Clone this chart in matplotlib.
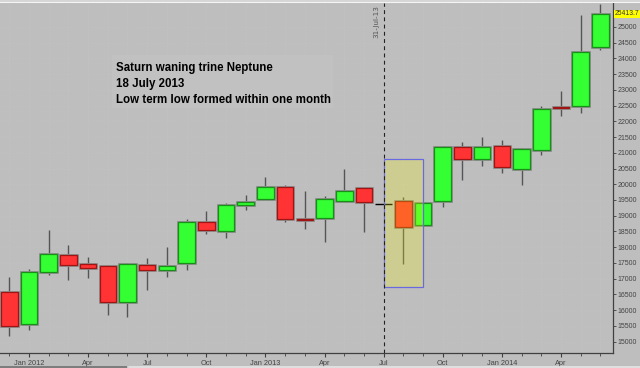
import matplotlib
matplotlib.use("Agg")
import matplotlib.pyplot as plt
import matplotlib.patches as mpatches
from matplotlib.lines import Line2D
import numpy as np

# ---- data (monthly candles, Dec 2011 .. Jun 2014) ----
months = ["Dec 2011", "Jan 2012", "Feb 2012", "Mar 2012", "Apr 2012", "May 2012", "Jun 2012",
          "Jul 2012", "Aug 2012", "Sep 2012", "Oct 2012", "Nov 2012", "Dec 2012",
          "Jan 2013", "Feb 2013", "Mar 2013", "Apr 2013", "May 2013", "Jun 2013",
          "Jul 2013", "Aug 2013", "Sep 2013", "Oct 2013", "Nov 2013", "Dec 2013",
          "Jan 2014", "Feb 2014", "Mar 2014", "Apr 2014", "May 2014", "Jun 2014"]
opens  = [16580, 15560, 17200, 17740, 17450, 17400, 16250, 17440, 17280, 17500, 18810, 18515, 19350,
          19530, 19910, 18905, 18915, 19475, 19880, 19370, 19455, 18705, 19475, 21170, 20790,
          21230, 20485, 21085, 22470, 22500, 24355]
highs  = [17040, 17290, 18560, 18070, 17690, 17420, 17490, 17670, 18020, 18905, 19160, 19400, 19645,
          20240, 19985, 19795, 19635, 20485, 19890, 19370, 19580, 19390, 21215, 21350, 21510,
          21415, 21150, 22490, 22970, 25380, 25730]
lows   = [15170, 15380, 17100, 16950, 17020, 15835, 15770, 16630, 17050, 17265, 18410, 18280, 19170,
          19520, 18800, 18590, 18150, 19470, 18480, 19370, 17475, 18705, 19265, 20150, 20580,
          20355, 19975, 20915, 22185, 22280, 24270]
closes = [15490, 17210, 17780, 17435, 17340, 16250, 17470, 17260, 17400, 18800, 18530, 19350, 19435,
          19910, 18895, 18865, 19530, 19785, 19420, 19370, 18650, 19390, 21170, 20800, 21180,
          20535, 21125, 22395, 22420, 24215, 25413.7]

tick_months = ["Jan 2012", "Apr 2012", "Jul 2012", "Oct 2012", "Jan 2013", "Apr 2013", "Jul 2013",
               "Oct 2013", "Jan 2014", "Apr 2014"]
tick_labels = ["Jan 2012", "Apr", "Jul", "Oct", "Jan 2013", "Apr", "Jul", "Oct", "Jan 2014", "Apr"]
y_ticks = list(range(15000, 25001, 500))

event_month = "Jul 2013"
event_label = "31-Jul-13"
zone_months = ["Jul 2013", "Sep 2013"]
zone_low, zone_high = 16740, 20800
last_value = 25413.7
note_lines = ["Saturn waning trine Neptune", "18 July 2013", "Low term low formed within one month"]

# ---- figure ----
BG = "#bebebe"
fig = plt.figure(figsize=(6.4, 3.68), dpi=100, facecolor=BG)
ax = fig.add_axes([0.0, 15 / 368, 613 / 640, (368 - 15 - 3) / 368])
ax.set_facecolor(BG)

x = np.arange(len(months))
o = np.array(opens, float); h = np.array(highs, float)
l = np.array(lows, float); c = np.array(closes, float)
up = c > o
down = c < o
flat = c == o

# faint dotted grid at each month and price level
for xi in x:
    ax.axvline(xi, color="#c7c7c7", lw=0.5, ls=(0, (1, 2)), zorder=0)
for yv in y_ticks:
    ax.axhline(yv, color="#c4c4c4", lw=0.5, ls=(0, (1, 2)), zorder=0)

w = 0.84
# wicks
ax.vlines(x[~flat], l[~flat], h[~flat], color="#555555", lw=1.0, zorder=2)
# shadows/halo
bottoms = np.minimum(o, c); heights = np.abs(c - o)
ax.bar(x[~flat], heights[~flat], bottom=bottoms[~flat], width=w, color="none",
       edgecolor="#8c8c8c", lw=2.0, zorder=3)
ax.bar(x[up], heights[up], bottom=bottoms[up], width=w, color="#33ff33",
       edgecolor="#189018", lw=0.9, zorder=4)
ax.bar(x[down], heights[down], bottom=bottoms[down], width=w, color="#ff3333",
       edgecolor="#a01414", lw=0.9, zorder=4)
ax.hlines(c[flat], x[flat] - w / 2, x[flat] + w / 2, color="black", lw=1.0, zorder=4)

# highlighted zone (semi transparent yellow on top, blue outline)
z0 = months.index(zone_months[0]); z1 = months.index(zone_months[1])
ax.add_patch(mpatches.Rectangle((z0, zone_low), z1 - z0, zone_high - zone_low,
                                facecolor=(1, 1, 0, 0.235), edgecolor="none", zorder=5))
ax.add_patch(mpatches.Rectangle((z0, zone_low), z1 - z0, zone_high - zone_low,
                                facecolor="none", edgecolor="#6a6ae0", lw=0.9, zorder=5.5))

# event line
ev = months.index(event_month)
ax.axvline(ev, color="#222222", lw=0.8, ls=(0, (3.5, 3)), zorder=6)
ax.text(ev - 0.2, 25700, event_label, rotation=90, ha="right", va="top",
        fontsize=5.2, color="#555555", family="DejaVu Sans", zorder=7)

# axes limits
ax.set_xlim(-0.47, 30.64)
ax.set_ylim(14635, 25762)

# spines
for s in ["left", "top"]:
    ax.spines[s].set_visible(False)
for s in ["right", "bottom"]:
    ax.spines[s].set_color("#404040")
    ax.spines[s].set_linewidth(0.9)

# x ticks
ax.set_xticks([months.index(m) for m in tick_months])
ax.set_xticklabels(tick_labels, family="Liberation Sans")
ax.set_xticks(x, minor=True)
ax.tick_params(axis="x", which="major", length=3, width=0.8, color="#404040",
               labelsize=5.3, labelcolor="#444444", pad=2)
ax.tick_params(axis="x", which="minor", length=2, width=0.6, color="#404040")

# y ticks on right
ax.yaxis.tick_right()
ax.set_yticks(y_ticks)
ax.set_yticklabels([str(v) for v in y_ticks], family="Liberation Sans")
ax.tick_params(axis="y", which="major", length=2, width=0.6, color="#404040",
               labelsize=5.0, labelcolor="#444444", pad=1)

# last value label
ax.text(1.003, last_value, f"{last_value:.1f}", transform=ax.get_yaxis_transform(),
        ha="left", va="center", fontsize=4.9, color="#333333", clip_on=False,
        family="Liberation Sans",
        bbox=dict(boxstyle="square,pad=0.08", facecolor="#ffff00", edgecolor="none"), zorder=8)

# note box
fig.patches.append(mpatches.Rectangle((112 / 640, 1 - 108 / 368), (333 - 112) / 640, 53 / 368,
                                      transform=fig.transFigure, facecolor="#c1c1c1",
                                      edgecolor="none", zorder=1))
baselines = [70.5, 86.5, 103.0]
for line, yb in zip(note_lines, baselines):
    fig.text(116.5 / 640, 1 - yb / 368, line, ha="left", va="baseline", fontsize=8.3,
             fontweight="bold", family="Liberation Sans", color="black", zorder=9)

# top strip and bottom bar
fig.add_artist(Line2D([0, 1], [1 - 0.5 / 368, 1 - 0.5 / 368], transform=fig.transFigure,
                      color="#dcdcdc", lw=1.2))
fig.add_artist(Line2D([0, 1], [1 - 1.8 / 368, 1 - 1.8 / 368], transform=fig.transFigure,
                      color="#f4f4f4", lw=0.8))
fig.add_artist(Line2D([0, 128 / 640], [1.5 / 368, 1.5 / 368], transform=fig.transFigure,
                      color="#707070", lw=1.2))
fig.add_artist(Line2D([128 / 640, 1], [1.5 / 368, 1.5 / 368], transform=fig.transFigure,
                      color="#e6e6e6", lw=1.2))

fig.savefig("out.png", dpi=100, facecolor=BG)
